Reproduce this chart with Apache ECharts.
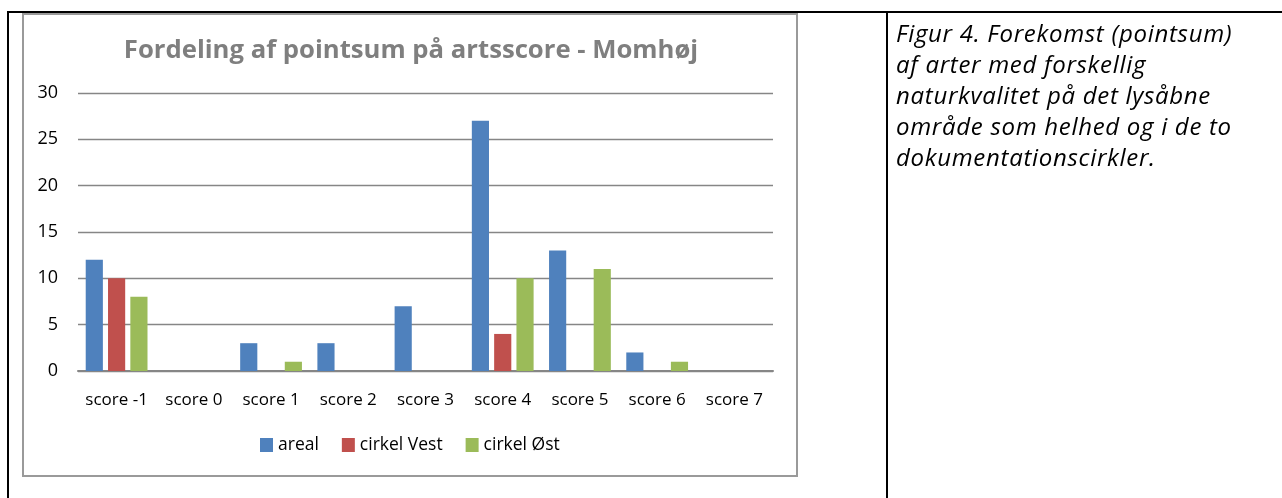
<!DOCTYPE html>
<html>
<head>
<meta charset="utf-8">
<script src="https://cdn.jsdelivr.net/npm/echarts@6/dist/echarts.min.js"></script>
<style>
  html, body { margin: 0; padding: 0; background: #fff; }
  #page { position: relative; width: 1282px; height: 498px; overflow: hidden; }
  #chart { position: absolute; left: 0; top: 0; width: 1282px; height: 498px; }
  .line { position: absolute; background: #000; }
  .caption {
    position: absolute; left: 896px; top: 17px;
    font-family: "Open Sans", sans-serif; font-style: italic;
    font-size: 24px; letter-spacing: 0.7px; line-height: 31px; color: #000; white-space: nowrap;
  }
</style>
</head>
<body>
<div id="page">
  <div id="chart"></div>
  <div class="line" style="left:7px;top:11px;width:1275px;height:2px"></div>
  <div class="line" style="left:7px;top:11px;width:2px;height:487px"></div>
  <div class="line" style="left:886px;top:11px;width:2px;height:487px"></div>
  <div class="caption">Figur 4. Forekomst (pointsum)<br>af arter med forskellig<br>naturkvalitet på det lysåbne<br>område som helhed og i de to<br>dokumentationscirkler.</div>
</div>
<script>
// data
var categories = ['score -1', 'score 0', 'score 1', 'score 2', 'score 3', 'score 4', 'score 5', 'score 6', 'score 7']
var areal = [12, 0, 3, 3, 7, 27, 13, 2, 0]
var cirkelVest = [10, 0, 0, 0, 0, 4, 0, 0, 0]
var cirkelOst = [8, 0, 1, 0, 0, 10, 11, 1, 0]

var myChart = echarts.init(document.getElementById('chart'))
var font = '"Open Sans", sans-serif'

function bar(name, data, color) {
  return {
    name: name,
    type: 'bar',
    data: data,
    barGap: '30%',
    barCategoryGap: '20%',
    itemStyle: { color: color }
  }
}

var option = {
  animation: false,
  title: {
    text: 'Fordeling af pointsum på artsscore - Momhøj',
    left: 406,
    top: 33,
    textAlign: 'center',
    textStyle: { color: '#7f7f7f', fontSize: 25.7, fontWeight: 'bold', fontFamily: font }
  },
  // chart frame
  graphic: [{
    type: 'rect',
    shape: { x: 23, y: 14, width: 774, height: 462 },
    style: { fill: null, stroke: '#9a9a9a', lineWidth: 2 },
    silent: true
  }],
  legend: {
    left: 255,
    top: 431,
    icon: 'rect',
    itemWidth: 13,
    itemHeight: 14,
    itemGap: 23,
    textStyle: { color: '#000', fontSize: 17.5, fontFamily: font }
  },
  grid: { left: 78, top: 93, width: 695, height: 278, containLabel: false },
  xAxis: {
    type: 'category',
    data: categories,
    axisTick: { show: false },
    axisLine: { lineStyle: { color: '#868686', width: 2 } },
    axisLabel: { color: '#000', fontSize: 17, fontFamily: font, margin: 21, interval: 0 }
  },
  yAxis: {
    type: 'value',
    min: 0,
    max: 30,
    interval: 5,
    axisLine: { show: false },
    axisTick: { show: false },
    axisLabel: { color: '#000', fontSize: 18, fontFamily: font, margin: 20 },
    splitLine: { lineStyle: { color: '#868686', width: 1.3 } }
  },
  series: [
    bar('areal', areal, '#4f81bd'),
    bar('cirkel Vest', cirkelVest, '#c0504d'),
    bar('cirkel Øst', cirkelOst, '#9bbb59')
  ]
}
myChart.setOption(option)
</script>
</body>
</html>
